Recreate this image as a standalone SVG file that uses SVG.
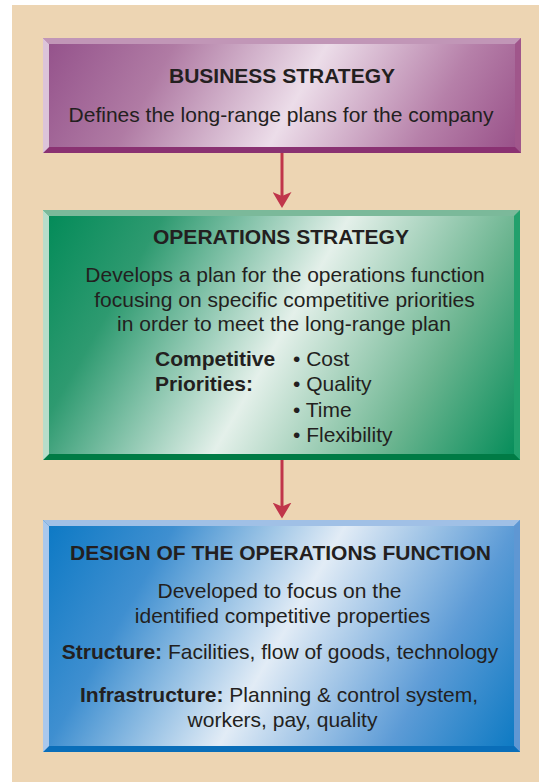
<svg xmlns="http://www.w3.org/2000/svg" width="539" height="782" viewBox="0 0 539 782">
<style>
.t{font-family:"Liberation Sans",Arial,Helvetica,sans-serif;font-size:21px;fill:#231F20}
.b{font-weight:bold}
.m{text-anchor:middle}
.arr{stroke:#C0354A;stroke-width:3;fill:none}
</style>
<defs>
<linearGradient id="gP" gradientUnits="userSpaceOnUse" x1="82" y1="-30" x2="490" y2="206">
<stop offset="0" stop-color="#93508A"/>
<stop offset="0.25" stop-color="#B07BA4"/>
<stop offset="0.53" stop-color="#ECDDE9"/>
<stop offset="0.8" stop-color="#B680A9"/>
<stop offset="1" stop-color="#974E87"/>
</linearGradient>
<linearGradient id="gG" gradientUnits="userSpaceOnUse" x1="48" y1="201" x2="514" y2="470">
<stop offset="0" stop-color="#008A57"/>
<stop offset="0.2" stop-color="#2E9A70"/>
<stop offset="0.5" stop-color="#E4F0EA"/>
<stop offset="0.78" stop-color="#6AB48F"/>
<stop offset="1" stop-color="#008B57"/>
</linearGradient>
<linearGradient id="gB" gradientUnits="userSpaceOnUse" x1="73" y1="469" x2="531" y2="733">
<stop offset="0" stop-color="#0A78C4"/>
<stop offset="0.22" stop-color="#3F8FD0"/>
<stop offset="0.5" stop-color="#E2ECF6"/>
<stop offset="0.78" stop-color="#5C9BD6"/>
<stop offset="1" stop-color="#0878C2"/>
</linearGradient>
<marker id="ah" viewBox="0 0 16 19" refX="8" refY="9.5" markerWidth="16" markerHeight="19" markerUnits="userSpaceOnUse" orient="auto">
<path d="M0,0 L16,9.5 L0,19 L4,9.5 Z" fill="#C0354A"/>
</marker>
</defs>
<rect x="0" y="0" width="539" height="782" fill="#FFFFFF"/>
<rect x="12" y="5" width="527" height="777" fill="#EDD5B3"/>

<g id="business-strategy">
<rect x="43" y="38" width="478" height="115" fill="url(#gP)"/>
<polygon points="43,38 521,38 515,44 49,44" fill="#C196B7"/>
<polygon points="521,38 521,153 515,147 515,44" fill="#A0568B"/>
<polygon points="43,153 521,153 515,147 49,147" fill="#8A3272"/>
<polygon points="43,38 49,44 49,147 43,153" fill="#DCC4D9"/>
<text class="t b m" x="282" y="83">BUSINESS STRATEGY</text>
<text class="t m" x="281" y="122">Defines the long-range plans for the company</text>
</g>

<g id="operations-strategy">
<rect x="43" y="210" width="477" height="250" fill="url(#gG)"/>
<polygon points="43,210 520,210 514,216 49,216" fill="#7BB99A"/>
<polygon points="520,210 520,460 514,454 514,216" fill="#22A06C"/>
<polygon points="43,460 520,460 514,454 49,454" fill="#007B45"/>
<polygon points="43,210 49,216 49,454 43,460" fill="#B8DDCA"/>
<text class="t b m" x="281" y="244">OPERATIONS STRATEGY</text>
<text class="t m" x="285" y="282">Develops a plan for the operations function</text>
<text class="t m" x="284.5" y="306.5">focusing on specific competitive priorities</text>
<text class="t m" x="284" y="331">in order to meet the long-range plan</text>
<text class="t b" x="155" y="366">Competitive</text>
<text class="t b" x="155" y="391">Priorities:</text>
<text class="t" x="293" y="366">• Cost</text>
<text class="t" x="293" y="391">• Quality</text>
<text class="t" x="293" y="416.5">• Time</text>
<text class="t" x="293" y="441.5">• Flexibility</text>
</g>

<g id="design-operations-function">
<rect x="43" y="520" width="477" height="232" fill="url(#gB)"/>
<polygon points="43,520 520,520 514,526 49,526" fill="#A0C0E6"/>
<polygon points="520,520 520,752 514,746 514,526" fill="#5F97D3"/>
<polygon points="43,752 520,752 514,746 49,746" fill="#0A6EB9"/>
<polygon points="43,520 49,526 49,746 43,752" fill="#AAC8EC"/>
<text class="t b m" x="280.5" y="560">DESIGN OF THE OPERATIONS FUNCTION</text>
<text class="t m" x="279.5" y="598">Developed to focus on the</text>
<text class="t m" x="282.5" y="623">identified competitive properties</text>
<text class="t m" x="280" y="659"><tspan class="b">Structure:</tspan> Facilities, flow of goods, technology</text>
<text class="t m" x="279" y="701.5"><tspan class="b">Infrastructure:</tspan> Planning &amp; control system,</text>
<text class="t m" x="282.5" y="726.5">workers, pay, quality</text>
</g>

<g id="connectors">
<line class="arr" x1="282" y1="153" x2="282" y2="200" marker-end="url(#ah)"/>
<line class="arr" x1="282" y1="460" x2="282" y2="510.5" marker-end="url(#ah)"/>
</g>
</svg>
